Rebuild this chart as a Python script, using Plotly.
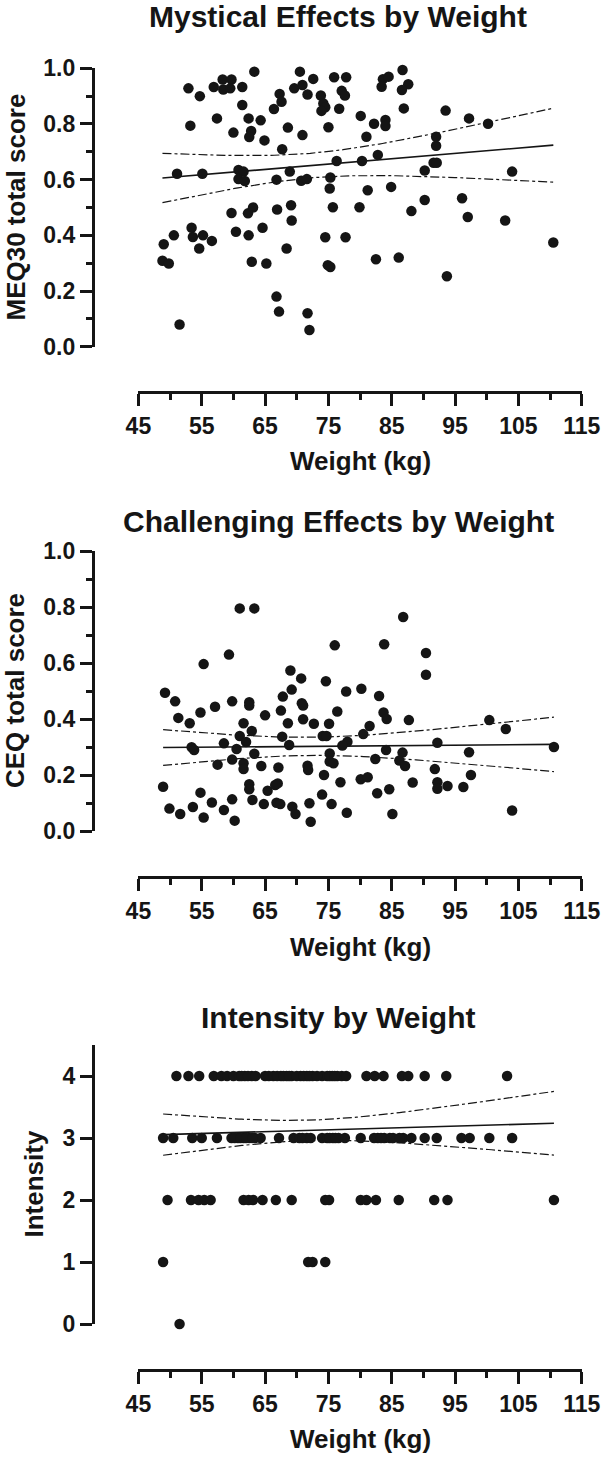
import numpy as np
import plotly.graph_objects as go

# ---------------- Data ----------------
meq_weight = [63.3, 52.9, 54.7, 58.3, 59.7, 56.9, 58.4, 59.5, 61.4, 70.5, 69.6, 70.9, 71.7, 67.3, 67.6,
              61.4, 66.4, 53.2, 57.4, 62.4, 64.3, 68.6, 60.0, 62.8, 62.5, 64.9, 70.9, 67.7, 51.1, 55.1,
              60.8, 61.6, 60.8, 61.8, 66.8, 68.9, 70.7, 71.6, 59.7, 62.3, 63.1, 66.9, 69.1, 69.2, 64.6,
              60.4, 62.4, 50.6, 53.4, 53.6, 55.2, 56.6, 54.6, 49.0, 48.8, 49.8, 62.9, 65.2, 68.4, 66.8,
              67.2, 51.5, 71.7, 72.0, 72.6, 75.9, 77.8, 73.8, 74.2, 74.5, 73.9, 77.1, 77.6, 76.7, 75.0,
              80.1, 82.2, 84.0, 84.0, 81.0, 83.6, 84.5, 83.4, 86.7, 87.6, 86.6, 86.9, 93.5, 97.2, 100.2,
              92.0, 92.0, 76.3, 80.3, 82.8, 91.6, 92.1, 90.2, 104.0, 75.3, 75.2, 81.2, 84.9, 75.7, 79.9,
              88.1, 90.2, 96.1, 97.0, 102.9, 74.5, 77.7, 74.9, 75.3, 82.5, 86.1, 93.7, 110.5]
meq_score = [0.988, 0.928, 0.900, 0.960, 0.960, 0.933, 0.924, 0.928, 0.933, 0.988, 0.928, 0.940, 0.906, 0.908, 0.880,
             0.868, 0.854, 0.794, 0.820, 0.820, 0.813, 0.787, 0.769, 0.775, 0.753, 0.741, 0.760, 0.709, 0.621, 0.621,
             0.635, 0.629, 0.602, 0.595, 0.600, 0.629, 0.596, 0.602, 0.480, 0.479, 0.500, 0.493, 0.508, 0.453, 0.427,
             0.413, 0.400, 0.400, 0.427, 0.394, 0.400, 0.380, 0.353, 0.368, 0.309, 0.299, 0.305, 0.299, 0.353, 0.180,
             0.126, 0.080, 0.120, 0.060, 0.962, 0.968, 0.968, 0.902, 0.874, 0.860, 0.847, 0.919, 0.902, 0.855, 0.788,
             0.829, 0.801, 0.814, 0.793, 0.754, 0.961, 0.970, 0.934, 0.994, 0.943, 0.922, 0.856, 0.848, 0.820, 0.801,
             0.754, 0.722, 0.667, 0.667, 0.689, 0.661, 0.661, 0.633, 0.629, 0.608, 0.568, 0.562, 0.574, 0.501, 0.501,
             0.487, 0.527, 0.533, 0.466, 0.453, 0.393, 0.393, 0.293, 0.286, 0.314, 0.320, 0.253, 0.374]

ceq_weight = [61.0, 63.3, 59.3, 55.3, 49.2, 50.8, 51.3, 53.1, 54.8, 57.1, 59.8, 62.5, 62.5, 65.0, 67.5,
              67.8, 69.0, 70.7, 69.2, 70.8, 71.0, 68.6, 71.0, 61.6, 62.9, 61.0, 62.0, 60.5, 58.5, 53.4,
              53.8, 67.7, 68.8, 63.3, 59.8, 61.6, 61.6, 57.5, 64.4, 67.1, 71.7, 71.8, 48.9, 54.8, 62.5,
              62.5, 65.4, 66.6, 67.0, 49.9, 51.6, 53.6, 56.6, 55.3, 58.5, 59.8, 60.2, 63.0, 64.8, 66.8,
              67.4, 69.3, 69.8, 72.0, 72.2, 86.8, 76.0, 83.8, 90.4, 90.4, 74.6, 77.8, 80.2, 83.0, 76.4,
              72.7, 75.1, 83.7, 84.2, 87.7, 100.4, 103.0, 81.5, 80.5, 74.1, 74.7, 78.0, 77.2, 92.2, 84.1,
              86.7, 97.2, 75.2, 75.2, 75.8, 82.4, 86.2, 87.1, 74.3, 91.8, 97.5, 76.9, 80.1, 81.2, 88.3,
              92.2, 92.2, 93.8, 96.3, 82.7, 84.6, 74.0, 75.5, 77.9, 85.1, 104.0, 110.6]
ceq_score = [0.795, 0.795, 0.630, 0.596, 0.494, 0.463, 0.404, 0.385, 0.423, 0.444, 0.463, 0.460, 0.448, 0.413, 0.430,
             0.480, 0.573, 0.545, 0.505, 0.456, 0.448, 0.385, 0.399, 0.385, 0.357, 0.339, 0.318, 0.293, 0.313, 0.299,
             0.289, 0.337, 0.307, 0.276, 0.255, 0.242, 0.221, 0.237, 0.232, 0.227, 0.233, 0.218, 0.158, 0.137, 0.167,
             0.149, 0.144, 0.164, 0.170, 0.080, 0.061, 0.086, 0.102, 0.048, 0.075, 0.113, 0.037, 0.111, 0.096, 0.101,
             0.096, 0.087, 0.061, 0.099, 0.033, 0.764, 0.663, 0.667, 0.636, 0.558, 0.535, 0.498, 0.508, 0.482, 0.427,
             0.383, 0.383, 0.423, 0.400, 0.396, 0.396, 0.364, 0.375, 0.346, 0.339, 0.339, 0.319, 0.305, 0.315, 0.289,
             0.280, 0.281, 0.277, 0.248, 0.242, 0.257, 0.252, 0.232, 0.200, 0.221, 0.200, 0.174, 0.185, 0.192, 0.173,
             0.174, 0.151, 0.161, 0.157, 0.135, 0.149, 0.130, 0.096, 0.065, 0.061, 0.073, 0.300]

int_weight = [51.0, 52.9, 54.6, 56.9, 58.1, 59.0, 60.0, 60.9, 61.8, 62.9, 65.0, 66.3, 67.5, 68.4, 69.2, 70.6,
              71.6, 72.5, 74.0, 74.8, 75.6, 76.4, 77.1, 77.8, 81.0, 82.3, 83.7, 86.6, 87.6, 90.2, 93.6, 103.2,
              61.3, 62.3, 63.5, 65.6, 66.9, 67.9, 68.8, 70.0, 71.1, 72.0, 73.2, 75.2, 76.0,
              48.9, 50.5, 53.5, 55.0, 57.4, 59.7, 60.7, 61.6, 62.5, 63.4, 64.3, 67.2, 69.5, 70.4, 71.6, 74.0,
              74.8, 75.7, 76.6, 77.6, 80.1, 82.8, 83.8, 84.7, 86.8, 88.1, 90.2, 92.1, 96.0, 97.3, 100.4, 104.0,
              60.2, 61.1, 62.0, 63.0, 70.9, 72.2, 75.2, 76.1, 82.2, 83.3, 85.2, 86.2,
              49.6, 53.3, 54.5, 55.4, 56.4, 61.6, 62.4, 63.1, 64.6, 66.7, 69.2, 74.5, 75.1, 80.1, 81.0, 82.5,
              86.1, 91.7, 93.8, 110.6,
              48.9, 71.8, 72.5, 74.5,
              51.5]
int_score = [4] * 45 + [3] * 44 + [2] * 20 + [1] * 4 + [0]

# ---------------- Helpers ----------------
FONT = "Liberation Sans, Arial, Helvetica, sans-serif"
W, H = 603, 1458


def px_x(p):
    return p / W


def px_y(p):
    return 1 - p / H


def regression(x, y):
    x = np.asarray(x, float)
    y = np.asarray(y, float)
    n = len(x)
    b, a = np.polyfit(x, y, 1)
    res = y - (a + b * x)
    s = np.sqrt(np.sum(res ** 2) / (n - 2))
    sxx = np.sum((x - x.mean()) ** 2)
    df = n - 2
    z = 1.959964
    t = z + (z ** 3 + z) / (4 * df) + (5 * z ** 5 + 16 * z ** 3 + 3 * z) / (96 * df ** 2)
    xs = np.linspace(x.min(), x.max(), 120)
    fit = a + b * xs
    half = t * s * np.sqrt(1.0 / n + (xs - x.mean()) ** 2 / sxx)
    return xs, fit, fit - half, fit + half


panels = [
    dict(x=meq_weight, y=meq_score, title="Mystical Effects by Weight", ytitle="MEQ30 total score",
         ytop=68.3, ybot=346.7, yrange=[0, 1], dtick=0.2, minor=0.1, fmt=".1f", xaxis_y=392,
         title_y=17, xtitle_y=461, ytitle_x=15),
    dict(x=ceq_weight, y=ceq_score, title="Challenging Effects by Weight", ytitle="CEQ total score",
         ytop=551, ybot=831, yrange=[0, 1], dtick=0.2, minor=0.1, fmt=".1f", xaxis_y=877,
         title_y=521, xtitle_y=947, ytitle_x=15),
    dict(x=int_weight, y=int_score, title="Intensity by Weight", ytitle="Intensity",
         ytop=1045, ybot=1324, yrange=[0, 4.5], dtick=1, minor=None, fmt="d", xaxis_y=1370,
         title_y=1017, xtitle_y=1439, ytitle_x=33),
]

X0, X1 = 138.4, 581.8
YAXIS_X = 92.8
INK = "#151515"

fig = go.Figure()
annotations = []
layout = {}

for i, p in enumerate(panels, start=1):
    xa = "x" if i == 1 else f"x{i}"
    ya = "y" if i == 1 else f"y{i}"
    xs, fit, lo, hi = regression(p["x"], p["y"])
    for yy, dash, w in [(lo, "dashdot", 1.2), (hi, "dashdot", 1.2), (fit, "solid", 1.6)]:
        fig.add_trace(go.Scatter(x=xs, y=yy, mode="lines", xaxis=xa, yaxis=ya,
                                 line=dict(color=INK, width=w, dash=dash),
                                 hoverinfo="skip", cliponaxis=False))
    fig.add_trace(go.Scatter(x=p["x"], y=p["y"], mode="markers", xaxis=xa, yaxis=ya,
                             marker=dict(color=INK, size=10.5, line=dict(width=0)),
                             cliponaxis=False))

    xkey = "xaxis" if i == 1 else f"xaxis{i}"
    ykey = "yaxis" if i == 1 else f"yaxis{i}"
    layout[xkey] = dict(
        domain=[px_x(X0), px_x(X1)], range=[45, 115], anchor="free", position=px_y(p["xaxis_y"]),
        showline=True, linewidth=3, linecolor=INK, showgrid=False, zeroline=False,
        ticks="outside", ticklen=12, tickwidth=3, tickcolor=INK,
        tickmode="linear", tick0=45, dtick=10,
        minor=dict(ticks="outside", ticklen=6, tickwidth=3, tickcolor=INK, tick0=45, dtick=5, showgrid=False),
        tickfont=dict(family=FONT, size=23, color=INK, weight="bold"),
        automargin=False, fixedrange=True,
    )
    ydict = dict(
        domain=[px_y(p["ybot"]), px_y(p["ytop"])], range=p["yrange"], anchor="free", position=px_x(YAXIS_X),
        showline=True, linewidth=3, linecolor=INK, showgrid=False, zeroline=False,
        ticks="outside", ticklen=12, tickwidth=3, tickcolor=INK,
        tickmode="linear", tick0=0, dtick=p["dtick"], tickformat=p["fmt"],
        tickfont=dict(family=FONT, size=23, color=INK, weight="bold"),
        automargin=False, fixedrange=True,
    )
    if p["minor"]:
        ydict["minor"] = dict(ticks="outside", ticklen=6, tickwidth=3, tickcolor=INK, tick0=0,
                              dtick=p["minor"], showgrid=False)
    layout[ykey] = ydict

    annotations.append(dict(text=p["title"], x=px_x(338), y=px_y(p["title_y"]), xref="paper", yref="paper",
                            xanchor="center", yanchor="middle", showarrow=False,
                            font=dict(family=FONT, size=30, color=INK, weight="bold")))
    annotations.append(dict(text="Weight (kg)", x=px_x((X0 + X1) / 2), y=px_y(p["xtitle_y"]),
                            xref="paper", yref="paper", xanchor="center", yanchor="middle", showarrow=False,
                            font=dict(family=FONT, size=26, color=INK, weight="bold")))
    annotations.append(dict(text=p["ytitle"], x=px_x(p["ytitle_x"]), y=px_y((p["ytop"] + p["ybot"]) / 2),
                            xref="paper", yref="paper", xanchor="center", yanchor="middle", showarrow=False,
                            textangle=-90,
                            font=dict(family=FONT, size=26, color=INK, weight="bold")))

fig.update_layout(
    width=W, height=H, margin=dict(l=0, r=0, t=0, b=0),
    paper_bgcolor="white", plot_bgcolor="white", template="none",
    showlegend=False, annotations=annotations, hovermode=False, **layout,
)

fig.write_html("out.html",
               config={"displayModeBar": False, "staticPlot": True},
               post_script="document.body.style.margin='0';document.body.style.padding='0';"
                           "document.documentElement.style.overflow='hidden';")
